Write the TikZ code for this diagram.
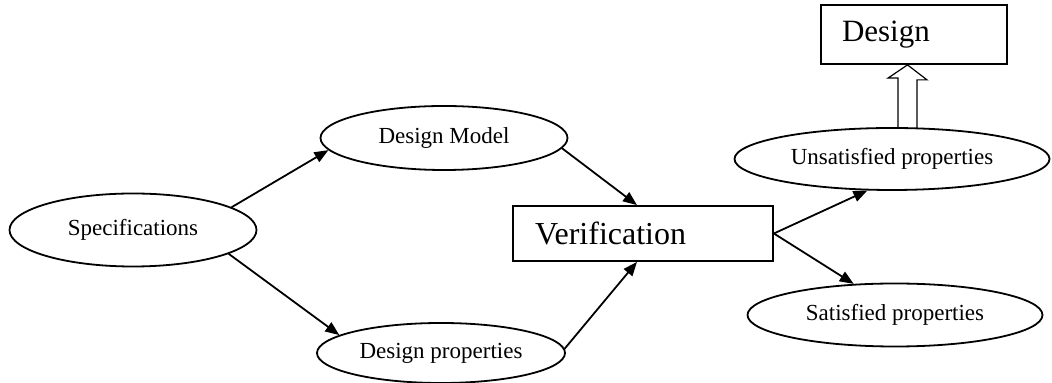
\documentclass[tikz,border=0pt]{standalone}
\usepackage{fontspec}
\setmainfont{Liberation Serif}
\usepackage{tikz}
\usetikzlibrary{calc,arrows.meta,shapes.geometric}
\tikzset{
	oval/.style={draw, ellipse, line width=0.9pt, inner sep=0pt, font=\fontsize{11.5}{13}\selectfont},
	box/.style={draw, rectangle, line width=0.9pt, align=left, inner ysep=0pt, font=\fontsize{16}{18}\selectfont},
	arr/.style={line width=0.9pt, -{Triangle[length=7pt, width=5.5pt]}}
}

\begin{document}
\begin{tikzpicture}[x=0.5pt, y=-0.5pt]
			%%%%% START %%%%%
			\useasboundingbox (0, 0) rectangle (1052, 383);
			
			\node[oval, minimum width=123.5pt, minimum height=36.5pt] (spec) at (133, 230) {Specifications};
			\node[oval, minimum width=123.5pt, minimum height=32pt] (dm) at (444, 138) {Design Model};
			\node[oval, minimum width=124pt, minimum height=30pt] (dp) at (441, 353) {Design properties};
			
			\node[box, minimum height=27.5pt, inner xsep=11pt, text width=108pt] (verif) at (643, 233.5) {Verification};
			
			\node[oval, minimum width=157.5pt, minimum height=31pt] (unsat) at (892, 159) {Unsatisfied properties};
			\node[oval, minimum width=147.5pt, minimum height=31.5pt] (sat) at (895, 315) {Satisfied properties};
			\node[box, minimum height=29.5pt, inner xsep=10.5pt, text width=72pt, font=\fontsize{15.5}{17}\selectfont] (design) at (914, 34.5) {Design};
			
			\draw[arr] (spec.13) -- (dm.186);
			\draw[arr] (spec.-14) -- (dp.170);
			\draw[arr] (dm.-5) -- (verif.102);
			\draw[arr] (dp.2) -- (verif.258);
			\draw[arr] (verif.east) -- (unsat.232);
			\draw[arr] (verif.east) -- (sat.143);
			
			% hollow arrow up to the design box
			\coordinate (tip) at ([xshift=-3.25pt]design.south);
			\draw[line width=0.6pt] ($(tip |- unsat.north)+(-4.75pt, 0)$) -- ++(0, 24.5pt) -- ++(-5pt, 0) -- (tip) -- ++(9.75pt, -7.5pt) -- ++(-5pt, 0) -- ++(0, -24.5pt);
			
			%%%%% END %%%%%
\end{tikzpicture}
\end{document}
